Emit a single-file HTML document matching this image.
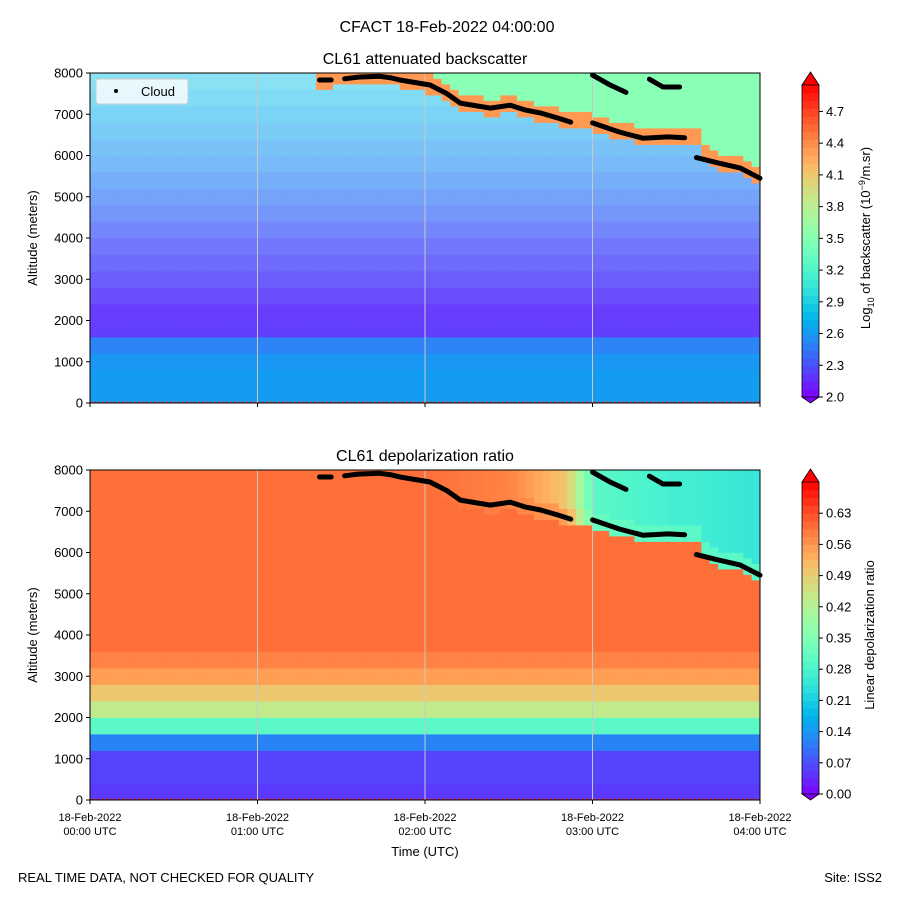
<!DOCTYPE html>
<html><head><meta charset="utf-8">
<style>
body{margin:0;background:#fff;}
svg{display:block;font-family:"Liberation Sans","DejaVu Sans",sans-serif;}
</style></head>
<body>
<svg id="fig" width="900" height="900" viewBox="0 0 900 900" xmlns="http://www.w3.org/2000/svg">
<rect width="900" height="900" fill="#fff"/>
<text x="447" y="32" font-size="16" text-anchor="middle">CFACT 18-Feb-2022 04:00:00</text>
<text x="425" y="64" font-size="16" text-anchor="middle">CL61 attenuated backscatter</text>
<text x="425" y="461" font-size="16" text-anchor="middle">CL61 depolarization ratio</text>
<g id="top-heat"></g>
<g id="bot-heat"></g>
<g id="overlay"></g>
<text x="425" y="856" font-size="13" text-anchor="middle">Time (UTC)</text>
<text transform="translate(37,238) rotate(-90)" font-size="13" text-anchor="middle">Altitude (meters)</text>
<text transform="translate(37,635) rotate(-90)" font-size="13" text-anchor="middle">Altitude (meters)</text>
<text transform="translate(870,238) rotate(-90)" font-size="13" text-anchor="middle">Log<tspan font-size="9" dy="4">10</tspan><tspan dy="-4"> of backscatter (10</tspan><tspan font-size="9" dy="-5">−9</tspan><tspan dy="5">/m.sr)</tspan></text>
<text transform="translate(874,635) rotate(-90)" font-size="13" text-anchor="middle">Linear depolarization ratio</text>
<text x="18" y="882" font-size="13">REAL TIME DATA, NOT CHECKED FOR QUALITY</text>
<text x="882" y="882" font-size="13" text-anchor="end">Site: ISS2</text>
</svg>
<script>
// ---- data ----
const altEdges400 = [0,400,800,1200,1600,2000,2400,2800,3200,3600,4000,4400,4800,5200,5600,6000,6400,6800,7200,7600];
const bsProfile = [2.62,2.62,2.6,2.5,2.2,2.18,2.22,2.25,2.28,2.3,2.35,2.4,2.45,2.5,2.55,2.6,2.65,2.7,2.75,2.8];
const bsMissing = [0,0,0,0.02,0.04,0.06,0.1,0.14,0.18,0.22,0.26,0.3,0.33,0.36,0.4,0.42,0.45,0.47,0.5,0.52];
const depolProfile = [0.05,0.06,0.06,0.12,0.3,0.44,0.5,0.55,0.58,0.6,0.6,0.6,0.6,0.6,0.6,0.6,0.6,0.6,0.6,0.6];
const cloudTimes = [1.37,1.55,1.73,1.85,2.03,2.21,2.39,2.51,2.69,2.87,3.0,3.16,3.34,3.52,3.62,3.70,3.88,4.0];
const cloudBase  = [7830,7880,7930,7830,7710,7270,7150,7220,7030,6810,6790,6570,6420,6450,6500,5890,5770,5450];
const cloudNearBs = 4.35;
const cloudAboveBs = 3.5;
const depolNearT = [1.3,2.0,2.5,2.85,3.0,3.5,4.0];
const depolNear  = [0.6,0.6,0.58,0.55,0.32,0.3,0.3];
const depolAbove = [0.6,0.6,0.58,0.5,0.3,0.27,0.25];
const cloudSegA = [[1.37,7830],[1.44,7830]];
const cloudSegB = [[1.52,7860],[1.60,7900],[1.73,7920],[1.80,7880],[1.85,7830],[2.03,7710],[2.13,7500],[2.21,7270],[2.39,7150],[2.51,7220],[2.60,7100],[2.69,7030],[2.80,6900],[2.87,6810]];
const cloudSegC = [[3.0,6790],[3.16,6570],[3.30,6420],[3.45,6450],[3.55,6430]];
const cloudSegD = [[3.0,7950],[3.1,7720],[3.2,7530]];
const cloudSegE = [[3.34,7850],[3.42,7660],[3.52,7660]];
const cloudSegF = [[3.62,5950],[3.75,5820],[3.88,5700],[4.0,5450]];
const yTicks = [0,1000,2000,3000,4000,5000,6000,7000,8000];
const xTicks = [0,1,2,3,4];
const xTickLabels = ["00:00 UTC","01:00 UTC","02:00 UTC","03:00 UTC","04:00 UTC"];
const bsTicks = [2.0,2.3,2.6,2.9,3.2,3.5,3.8,4.1,4.4,4.7];
const depolTicks = [0.00,0.07,0.14,0.21,0.28,0.35,0.42,0.49,0.56,0.63];

// ---- layout ----
const NS="http://www.w3.org/2000/svg";
const X0=90,X1=760;
const panels=[{top:73,bot:403,g:'top-heat'},{top:470,bot:800,g:'bot-heat'}];
const xs=t=>X0+(t/4)*(X1-X0);
function ys(p,a){return p.bot-(a/8000)*(p.bot-p.top);}
function mk(tag,attrs,parent){const e=document.createElementNS(NS,tag);for(const k in attrs)e.setAttribute(k,attrs[k]);(parent||document.getElementById('fig')).appendChild(e);return e;}
function rainbow(x){x=Math.max(0,Math.min(1,x));const r=Math.min(1,Math.abs(2*x-0.5)),g=Math.sin(Math.PI*x),b=Math.cos(Math.PI*x/2);return [r*255,g*255,b*255];}
function rgb(c){return `rgb(${c.map(v=>Math.round(v)).join(',')})`;}
function mix(c,w){return c.map(v=>v*(1-w)+255*w);}
function interp(xa,ya,t){if(t<=xa[0])return ya[0];for(let i=1;i<xa.length;i++){if(t<=xa[i]){const f=(t-xa[i-1])/(xa[i]-xa[i-1]);return ya[i-1]+f*(ya[i]-ya[i-1]);}}return ya[ya.length-1];}
function baseAt(t){return t<cloudTimes[0]-0.02?Infinity:interp(cloudTimes,cloudBase,t);}
const bsNorm=v=>(v-2.0)/(4.95-2.0), dpNorm=v=>v/0.70;

const NC=80,NR=60;
for(let pi=0;pi<2;pi++){
  const p=panels[pi],g=document.getElementById(p.g);
  for(let c=0;c<NC;c++){
    const t=(c+0.5)/NC*4, base=baseAt(t);
    for(let r=0;r<NR;r++){
      const a=(r+0.5)*8000/NR, k=Math.min(19,Math.floor(a/400));
      let col;
      if(pi===0){
        let v=bsProfile[k],w=bsMissing[k];
        if(a>=base-180&&a<=base+220){v=cloudNearBs;w=0;}
        else if(a>base+220){v=cloudAboveBs;w=0.05;}
        col=mix(rainbow(bsNorm(v)),w);
      }else{
        let v=depolProfile[k];
        if(a>=base-180&&a<=base+220)v=interp(depolNearT,depolNear,t);
        else if(a>base+220)v=interp(depolNearT,depolAbove,t);
        col=rainbow(dpNorm(v));
      }
      const x0=xs(c/NC*4),x1=xs((c+1)/NC*4),y0=ys(p,(r+1)*8000/NR),y1=ys(p,r*8000/NR);
      const e=mk('rect',{x:x0.toFixed(2),y:y0.toFixed(2),width:(x1-x0+0.4).toFixed(2),height:(y1-y0+0.4).toFixed(2),fill:rgb(col)},g);
      
      
    }
  }
}
const ov=document.getElementById('overlay');
panels.forEach((p,pi)=>{
  [1,2,3].forEach(h=>{const l=mk('line',{x1:xs(h),x2:xs(h),y1:p.top,y2:p.bot,stroke:'#c8c8c8','stroke-width':1},ov);
    });
  const gl=mk('line',{x1:X0,x2:X1,y1:p.bot-1,y2:p.bot-1,stroke:'#e03030','stroke-width':1,'stroke-dasharray':'2,2'},ov);
  
  [cloudSegA,cloudSegB,cloudSegC,cloudSegD,cloudSegE,cloudSegF].forEach(seg=>{
    const pl=mk('polyline',{points:seg.map(d=>xs(d[0]).toFixed(1)+','+ys(p,d[1]).toFixed(1)).join(' '),fill:'none',stroke:'#000','stroke-width':5,'stroke-linecap':'round','stroke-linejoin':'round'},ov);
    
  });
  const fr=mk('rect',{x:X0,y:p.top,width:X1-X0,height:p.bot-p.top,fill:'none',stroke:'#000','stroke-width':1},ov);
  
  yTicks.forEach(v=>{const y=ys(p,v);mk('line',{x1:X0-4,x2:X0,y1:y,y2:y,stroke:'#000'},ov);
    const t=mk('text',{x:X0-7,y:y+4.5,'font-size':13,'text-anchor':'end'},ov);t.textContent=v;
    });
  xTicks.forEach((h,i)=>{const x=xs(h);mk('line',{x1:x,x2:x,y1:p.bot,y2:p.bot+4,stroke:'#000'},ov);
    if(pi===1){const t1=mk('text',{x:x,y:821,'font-size':11,'text-anchor':'middle'},ov);t1.textContent='18-Feb-2022';
      
      const t2=mk('text',{x:x,y:835,'font-size':11,'text-anchor':'middle'},ov);t2.textContent=xTickLabels[i];
      }});
  const cb={x:802,w:17,top:p.top+12,bot:p.top+324};
  const nseg=40;
  for(let i=0;i<nseg;i++){const f=(i+0.5)/nseg;const y=cb.bot-(i+1)/nseg*(cb.bot-cb.top);
    const r=mk('rect',{x:cb.x,y:y.toFixed(2),width:cb.w,height:((cb.bot-cb.top)/nseg+0.5).toFixed(2),fill:rgb(rainbow(f))},ov);
    }
  const tu=mk('polygon',{points:`${cb.x},${cb.top} ${cb.x+cb.w},${cb.top} ${cb.x+cb.w/2},${p.top-1}`,fill:rgb(rainbow(1)),stroke:'#000','stroke-width':0.8},ov);
  
  const td=mk('polygon',{points:`${cb.x},${cb.bot} ${cb.x+cb.w},${cb.bot} ${cb.x+cb.w/2},${p.bot}`,fill:rgb(rainbow(0)),stroke:'#000','stroke-width':0.8},ov);
  
  mk('line',{x1:cb.x,x2:cb.x,y1:cb.top,y2:cb.bot,stroke:'#000','stroke-width':0.8},ov);
  mk('line',{x1:cb.x+cb.w,x2:cb.x+cb.w,y1:cb.top,y2:cb.bot,stroke:'#000','stroke-width':0.8},ov);
  const ticks=pi===0?bsTicks:depolTicks, norm=pi===0?bsNorm:dpNorm;
  ticks.forEach(v=>{const y=cb.bot-norm(v)*(cb.bot-cb.top);
    mk('line',{x1:cb.x+cb.w,x2:cb.x+cb.w+4,y1:y,y2:y,stroke:'#000'},ov);
    const t=mk('text',{x:cb.x+cb.w+7,y:y+4.5,'font-size':13},ov);t.textContent=v.toFixed(pi===0?1:2);
    });
});
const lg=mk('g',{},ov);


mk('rect',{x:96,y:79,width:92,height:25,rx:3,fill:'#fff','fill-opacity':0.8,stroke:'#ccc'},lg);
mk('circle',{cx:116,cy:91,r:2,fill:'#000'},lg);
const lt=mk('text',{x:141,y:96,'font-size':13},lg);lt.textContent='Cloud';


</script>
</body></html>
